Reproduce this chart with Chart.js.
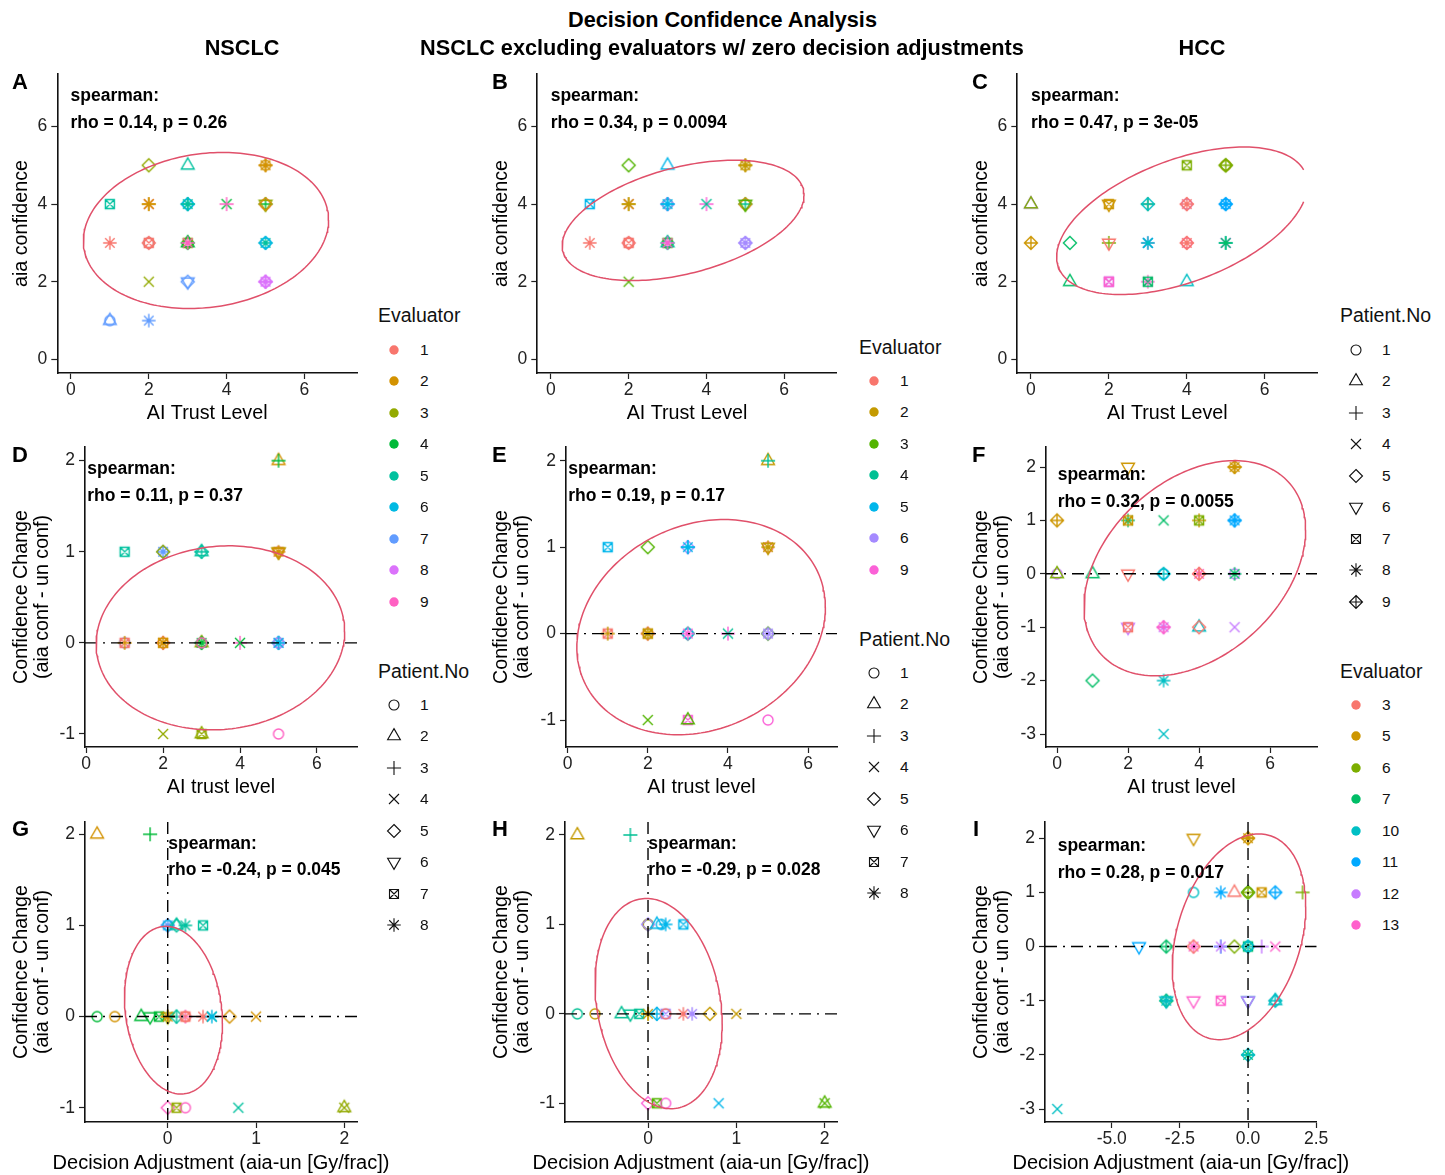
<!DOCTYPE html>
<html>
<head>
<meta charset="utf-8">
<title>Decision Confidence Analysis</title>
<script src="https://cdn.jsdelivr.net/npm/chart.js@4.4.1/dist/chart.umd.min.js"></script>
<style>
  html, body { margin:0; padding:0; background:#ffffff; }
  body { position:relative; width:1445px; height:1175px; overflow:hidden; font-family:'Liberation Sans', Arial, Helvetica, sans-serif; }
  canvas.pn, canvas.sym { position:absolute; }
  .tx { position:absolute; white-space:nowrap; color:#000; }
  .ttl { font-weight:bold; font-size:21.7px; line-height:26px; height:26px; text-align:center; }
  .lett { font-weight:bold; font-size:22px; line-height:26px; height:26px; }
  .sp { font-weight:bold; font-size:17.5px; line-height:20px; height:20px; }
  .axt { font-size:20px; line-height:24px; height:24px; text-align:center; }
  .lgt { font-size:19.5px; line-height:24px; height:24px; color:#111; }
  .lgl { font-size:15.5px; line-height:20px; height:20px; color:#111; }
</style>
</head>
<body>
<script>
// ================= DATA =================
// Panel A : NSCLC, AI trust level vs aia confidence
const A_trust     = [2,3,5,5,5,1,2,2,2,3,3,3,3,4,4,5,5,5,5,1,2,2,2,2,3,3,3,3,5,5,5,2,3,3,5,5,5,5,1,1,2];
const A_conf      = [5,5,5,5,5,4,4,4,4,4,4,4,4,4,4,4,4,4,4,3,3,3,3,3,3,3,3,3,3,3,3,2,2,2,2,2,2,2,1,1,1];
const A_evaluator = [3,5,2,2,2,5,1,2,2,6,5,6,5,4,9,1,4,3,2,1,6,1,1,1,4,3,4,9,5,6,6,3,7,7,8,8,8,8,7,7,7];
const A_patient   = [5,2,1,3,8,7,4,3,8,1,3,5,8,4,3,1,3,6,5,8,1,5,7,1,5,7,2,8,8,5,1,4,5,6,1,3,5,8,1,2,8];

// Panel B : NSCLC excluding evaluators w/ zero decision adjustments
const B_trust     = [2,3,5,5,5,1,2,2,2,3,3,3,3,4,4,5,5,5,5,1,2,2,2,2,3,3,3,3,5,5,5,2];
const B_conf      = [5,5,5,5,5,4,4,4,4,4,4,4,4,4,4,4,4,4,4,3,3,3,3,3,3,3,3,3,3,3,3,2];
const B_evaluator = [3,5,2,2,2,5,1,2,2,4,6,5,5,9,4,1,4,2,3,1,6,1,1,1,4,3,4,9,6,6,6,3];
const B_patient   = [5,2,1,3,8,7,4,3,8,1,5,3,8,3,4,1,3,5,6,8,1,5,7,1,5,7,2,8,5,8,1,4];

// Panel C : HCC
const C_trust     = [0,0,0,1,1,2,2,2,2,2,2,3,3,3,3,3,3,3,4,4,4,4,4,4,4,4,5,5,5,5,5,5,5,5,5];
const C_conf      = [4,4,3,3,2,4,4,3,3,2,2,4,4,3,3,3,2,2,5,4,4,4,3,3,3,2,5,5,5,4,4,4,3,3,3];
const C_evaluator = [12,6,5,7,7,5,5,6,3,12,13,6,10,12,11,10,13,7,6,12,3,3,13,3,3,10,5,6,6,11,11,11,12,10,7];
const C_patient   = [2,2,9,5,2,7,6,3,6,7,7,3,9,8,4,8,8,7,7,1,8,5,1,8,5,2,1,9,5,1,8,9,4,3,8];

// Panel D : NSCLC, AI trust level vs confidence change
const D_trust     = [5,5,1,2,2,2,3,3,3,5,5,5,5,1,1,1,2,2,2,3,3,3,3,4,4,5,5,5,5,2,3,3,5];
const D_change    = [2,2,1,1,1,1,1,1,1,1,1,1,1,0,0,0,0,0,0,0,0,0,0,0,0,0,0,0,0,-1,-1,-1,-1];
const D_evaluator = [2,4,5,7,7,3,5,5,5,1,3,2,2,7,1,2,1,2,2,4,3,4,9,9,4,6,7,8,6,3,3,3,9];
const D_patient   = [2,3,7,8,1,5,2,3,5,1,6,8,6,1,7,3,5,7,8,5,2,8,1,3,4,5,8,1,8,4,2,7,1];

// Panel E
const E_trust     = [5,5,1,2,3,3,3,5,5,5,1,1,2,2,2,3,3,3,4,4,5,5,5,2,3,3,5];
const E_change    = [2,2,1,1,1,1,1,1,1,1,0,0,0,0,0,0,0,0,0,0,0,0,0,-1,-1,-1,-1];
const E_evaluator = [2,4,5,3,6,5,5,1,2,2,1,2,1,2,2,4,5,9,9,4,3,6,6,3,9,3,9];
const E_patient   = [2,3,7,5,5,3,8,1,8,6,7,3,5,7,8,5,1,8,3,4,5,8,1,4,7,2,1];

// Panel F
const F_trust     = [2,5,5,0,2,2,3,4,4,5,5,0,0,1,2,3,3,4,4,5,5,2,2,3,3,4,4,5,1,3,3];
const F_change    = [2,2,2,1,1,1,1,1,1,1,1,0,0,0,0,0,0,0,0,0,0,-1,-1,-1,-1,-1,-1,-1,-2,-2,-3];
const F_evaluator = [5,5,5,5,7,5,7,5,6,11,11,12,6,7,3,11,10,13,3,12,7,12,3,12,13,10,3,12,7,10,10];
const F_patient   = [6,8,9,9,8,7,4,3,7,8,9,1,2,2,6,1,9,8,9,1,8,6,7,8,9,2,5,4,5,8,4];

// Panel G : NSCLC, decision adjustment vs confidence change
const G_adjust    = [-0.8,-0.2,0,0,0,0.1,0.1,0.2,0.4,-0.8,-0.6,-0.3,-0.2,-0.1,0,0,0,0.1,0.1,0.2,0.2,0.2,0.4,0.5,0.5,0.7,1.0,0,0.1,0.2,0.8,2,2];
const G_change    = [2,2,1,1,1,1,1,1,1,0,0,0,0,0,0,0,0,0,0,0,0,0,0,0,0,0,0,-1,-1,-1,-1,-1,-1];
const G_evaluator = [2,4,7,7,6,5,5,5,5,4,2,4,4,4,3,2,2,5,5,9,1,1,1,5,6,2,2,9,3,9,5,3,3];
const G_patient   = [2,3,5,8,1,5,2,8,7,1,1,2,6,7,6,3,8,3,5,3,7,1,8,4,8,5,4,5,7,1,4,4,2];

// Panel H
const H_adjust    = [-0.8,-0.2,0,0,0,0.1,0.15,0.2,0.4,-0.8,-0.6,-0.3,-0.2,-0.1,0,0,0.1,0.1,0.2,0.2,0.4,0.5,0.7,1.0,0,0.1,0.2,0.8,2,2];
const H_change    = [2,2,1,1,1,1,1,1,1,0,0,0,0,0,0,0,0,0,0,0,0,0,0,0,-1,-1,-1,-1,-1,-1];
const H_evaluator = [2,4,3,2,6,5,5,5,5,4,2,4,4,4,2,2,5,5,6,1,1,6,2,2,9,3,9,5,3,3];
const H_patient   = [2,3,1,1,5,2,1,8,7,1,1,2,6,7,3,8,3,5,7,1,8,8,5,4,5,7,1,4,4,2];

// Panel I
const I_adjust    = [-2,0,0,-2,-1,-0.5,0,0,0,0.5,1,2,-4,-3,-2,-2,-1,-1,-0.5,0,0,0,0.5,1,-3,-3,-3,-2,-1,0,0,1,1,0,0,-7];
const I_change    = [2,2,2,1,1,1,1,1,1,1,1,1,0,0,0,0,0,0,0,0,0,0,0,0,-1,-1,-1,-1,-1,-1,-1,-1,-1,-2,-2,-3];
const I_evaluator = [5,5,5,10,11,3,7,6,6,5,11,6,11,7,13,3,11,12,6,7,10,10,12,13,7,10,10,13,13,10,12,10,10,7,10,10];
const I_patient   = [6,8,9,1,8,2,5,1,9,7,9,3,6,9,8,5,3,8,5,7,1,9,3,4,9,8,6,6,7,6,6,9,2,8,9,4];

// Evaluator groups and colours (ggplot hue palette)
const NSCLC_evaluators = [1,2,3,4,5,6,7,8,9];
const NSCLC_colors = ['#F8766D','#D39200','#93AA00','#00BA38','#00C19F','#00B9E3','#619CFF','#DB72FB','#FF61C3'];
const EXCL_evaluators = [1,2,3,4,5,6,9];
const EXCL_colors = ['#F8766D','#C49A00','#53B400','#00C094','#00B6EB','#A58AFF','#FB61D7'];
const HCC_evaluators = [3,5,6,7,10,11,12,13];
const HCC_colors = ['#F8766D','#CD9600','#7CAE00','#00BE67','#00BFC4','#00A9FF','#C77CFF','#FF61CC'];
const NSCLC_patients = [1,2,3,4,5,6,7,8];
const HCC_patients = [1,2,3,4,5,6,7,8,9];

// Tick values / labels
const trustTicks = [0,2,4,6];
const confTicks = [0,2,4,6];
const changeTicksNSCLC = [-1,0,1,2];
const changeTicksHCC = [-3,-2,-1,0,1,2];
const adjustTicksNSCLC = [0,1,2];
const adjustTicksHCC = [-5,-2.5,0,2.5];
const adjustTickLabelsHCC = ['-5.0','-2.5','0.0','2.5'];

// Confidence ellipses: [centre x, centre y, half-width x, y offset of rightmost point, half-height y]
const A_ellipse = [3.47, 3.32, 3.15, 0.27, 2.01];
const B_ellipse = [3.40, 3.58, 3.11, 0.65, 1.55];
const C_ellipse = [3.88, 3.57, 3.22, 0.93, 1.90];
const D_ellipse = [3.49, 0.055, 3.23, 0.07, 1.01];
const E_ellipse = [3.33, 0.075, 3.10, 0.23, 1.245];
const F_ellipse = [3.88, 0.105, 3.12, 0.72, 2.015];
const G_ellipse = [0.065, 0.07, 0.555, -0.14, 0.92];
const H_ellipse = [0.12, 0.115, 0.72, -0.225, 1.175];
const I_ellipse = [-0.33, 0.18, 2.45, 0.56, 1.90];

// Spearman annotations
const A_stat = 'rho = 0.14, p = 0.26';
const B_stat = 'rho = 0.34, p = 0.0094';
const C_stat = 'rho = 0.47, p = 3e-05';
const D_stat = 'rho = 0.11, p = 0.37';
const E_stat = 'rho = 0.19, p = 0.17';
const F_stat = 'rho = 0.32, p = 0.0055';
const G_stat = 'rho = -0.24, p = 0.045';
const H_stat = 'rho = -0.29, p = 0.028';
const I_stat = 'rho = 0.28, p = 0.017';

// ================= PANEL DEFINITIONS =================
const yTitleChange = ['Confidence Change', '(aia conf - un conf)'];
const xTitleAdj = 'Decision Adjustment (aia-un [Gy/frac])';
const panels = [
  {k:'A', x:A_trust, y:A_conf, ev:A_evaluator, pt:A_patient, evals:NSCLC_evaluators, cols:NSCLC_colors, xt:trustTicks, yt:confTicks, ell:A_ellipse, lim:[0,7,0,7], hline:false, vline:false, xTitle:'AI Trust Level', yTitle:'aia confidence', stat:A_stat},
  {k:'B', x:B_trust, y:B_conf, ev:B_evaluator, pt:B_patient, evals:EXCL_evaluators, cols:EXCL_colors, xt:trustTicks, yt:confTicks, ell:B_ellipse, lim:[0,7,0,7], hline:false, vline:false, xTitle:'AI Trust Level', yTitle:'aia confidence', stat:B_stat},
  {k:'C', x:C_trust, y:C_conf, ev:C_evaluator, pt:C_patient, evals:HCC_evaluators, cols:HCC_colors, xt:trustTicks, yt:confTicks, ell:C_ellipse, lim:[0,7,0,7], hline:false, vline:false, xTitle:'AI Trust Level', yTitle:'aia confidence', stat:C_stat},
  {k:'D', x:D_trust, y:D_change, ev:D_evaluator, pt:D_patient, evals:NSCLC_evaluators, cols:NSCLC_colors, xt:trustTicks, yt:changeTicksNSCLC, ell:D_ellipse, lim:null, hline:true, vline:false, xTitle:'AI trust level', yTitle:yTitleChange, stat:D_stat},
  {k:'E', x:E_trust, y:E_change, ev:E_evaluator, pt:E_patient, evals:EXCL_evaluators, cols:EXCL_colors, xt:trustTicks, yt:changeTicksNSCLC, ell:E_ellipse, lim:null, hline:true, vline:false, xTitle:'AI trust level', yTitle:yTitleChange, stat:E_stat},
  {k:'F', x:F_trust, y:F_change, ev:F_evaluator, pt:F_patient, evals:HCC_evaluators, cols:HCC_colors, xt:trustTicks, yt:changeTicksHCC, ell:F_ellipse, lim:null, hline:true, vline:false, xTitle:'AI trust level', yTitle:yTitleChange, stat:F_stat},
  {k:'G', x:G_adjust, y:G_change, ev:G_evaluator, pt:G_patient, evals:NSCLC_evaluators, cols:NSCLC_colors, xt:adjustTicksNSCLC, yt:changeTicksNSCLC, ell:G_ellipse, lim:null, hline:true, vline:true, xTitle:xTitleAdj, htmlXTitle:true, yTitle:yTitleChange, stat:G_stat},
  {k:'H', x:H_adjust, y:H_change, ev:H_evaluator, pt:H_patient, evals:EXCL_evaluators, cols:EXCL_colors, xt:adjustTicksNSCLC, yt:changeTicksNSCLC, ell:H_ellipse, lim:null, hline:true, vline:true, xTitle:xTitleAdj, htmlXTitle:true, yTitle:yTitleChange, stat:H_stat},
  {k:'I', x:I_adjust, y:I_change, ev:I_evaluator, pt:I_patient, evals:HCC_evaluators, cols:HCC_colors, xt:adjustTicksHCC, xl:adjustTickLabelsHCC, yt:changeTicksHCC, ell:I_ellipse, lim:null, hline:true, vline:true, xTitle:xTitleAdj, htmlXTitle:true, yTitle:yTitleChange, stat:I_stat},
];

// ================= LAYOUT (page pixels) =================
const LAY = {
  A:{cv:[0,54,372,376],   area:[57.3,74,357,373],     xr:[-0.35,7.35], yr:[-0.35,7.35], tpad:5.5, sp:[70.5,101,128], let:[12,82]},
  B:{cv:[480,54,372,376], area:[537.3,74,836.7,373],  xr:[-0.35,7.35], yr:[-0.35,7.35], tpad:5.5, sp:[550.7,101,128], let:[492,82]},
  C:{cv:[960,54,372,376], area:[1017.3,74,1317.3,373],xr:[-0.35,7.35], yr:[-0.35,7.35], tpad:5.5, sp:[1031,101,128], let:[972,82]},
  D:{cv:[0,427,372,378],  area:[85,447,357,747],      xr:[-0.03,7.04], yr:[-1.143,2.15], tpad:7, sp:[87.3,474.5,501], let:[12,455]},
  E:{cv:[480,427,372,378],area:[566,447,837,747],     xr:[-0.04,6.72], yr:[-1.312,2.159], tpad:7, sp:[568.3,474.5,501], let:[492,455]},
  F:{cv:[960,427,372,378],area:[1046,447,1317,747],   xr:[-0.31,7.32], yr:[-3.243,2.375], tpad:7, sp:[1057.7,480.5,507], let:[972,455]},
  G:{cv:[0,802,372,373],  area:[85,822,357,1122],     xr:[-0.937,2.144], yr:[-1.157,2.135], tpad:2.9, sp:[168.3,849.5,874.7], let:[12,829]},
  H:{cv:[480,802,372,373],area:[565,822,837,1122],    xr:[-0.94,2.14], yr:[-1.209,2.145], tpad:2.9, sp:[648.3,849.5,874.7], let:[492,829]},
  I:{cv:[960,802,372,373],area:[1045,822,1316.7,1122],xr:[-7.45,2.52], yr:[-3.24,2.30], tpad:2.9, sp:[1057.7,851.5,877.7], let:[973,829]},
};
const ROW3_XTITLE_MID = 1161.6;

const FONT = "'Liberation Sans', Arial, Helvetica, sans-serif";
Chart.defaults.font.family = FONT;
const DASH = [12, 6, 2, 6];
const ELLIPSE_COLOR = '#E0506A';

// ================= SHAPES =================
const RAD = 5.0;
function pathShape(g, s, cx, cy) {
  g.beginPath();
  if (s === 1) {
    g.arc(cx, cy, RAD, 0, Math.PI * 2);
  } else if (s === 2 || s === 6) {
    const r = 1.5551 * RAD * 0.95, xc = 1.3468 * RAD * 0.95, yc = 0.7776 * RAD * 0.95, d = (s === 2) ? 1 : -1;
    g.moveTo(cx, cy - d * r); g.lineTo(cx + xc, cy + d * yc); g.lineTo(cx - xc, cy + d * yc); g.closePath();
  } else if (s === 3) {
    const a = 1.4142 * RAD;
    g.moveTo(cx - a, cy); g.lineTo(cx + a, cy); g.moveTo(cx, cy - a); g.lineTo(cx, cy + a);
  } else if (s === 4) {
    const a = RAD;
    g.moveTo(cx - a, cy - a); g.lineTo(cx + a, cy + a); g.moveTo(cx + a, cy - a); g.lineTo(cx - a, cy + a);
  } else if (s === 5) {
    const a = 1.3 * RAD;
    g.moveTo(cx, cy - a); g.lineTo(cx + a, cy); g.lineTo(cx, cy + a); g.lineTo(cx - a, cy); g.closePath();
  } else if (s === 7) {
    const a = 0.9 * RAD;
    g.rect(cx - a, cy - a, 2 * a, 2 * a);
    g.moveTo(cx - a, cy - a); g.lineTo(cx + a, cy + a); g.moveTo(cx + a, cy - a); g.lineTo(cx - a, cy + a);
  } else if (s === 8) {
    const a = 1.35 * RAD, b = 0.95 * RAD;
    g.moveTo(cx - a, cy); g.lineTo(cx + a, cy); g.moveTo(cx, cy - a); g.lineTo(cx, cy + a);
    g.moveTo(cx - b, cy - b); g.lineTo(cx + b, cy + b); g.moveTo(cx + b, cy - b); g.lineTo(cx - b, cy + b);
  } else if (s === 9) {
    const a = 1.3 * RAD;
    g.moveTo(cx, cy - a); g.lineTo(cx + a, cy); g.lineTo(cx, cy + a); g.lineTo(cx - a, cy); g.closePath();
    g.moveTo(cx - a, cy); g.lineTo(cx + a, cy); g.moveTo(cx, cy - a); g.lineTo(cx, cy + a);
  }
  g.stroke();
}
const cache = {};
function shapeCanvas(s, color) {
  const key = s + color;
  if (cache[key]) return cache[key];
  const c = document.createElement('canvas');
  c.width = 22; c.height = 22;
  const g = c.getContext('2d');
  g.strokeStyle = color; g.lineWidth = 1.4; g.lineJoin = 'miter';
  pathShape(g, s, 11, 11);
  cache[key] = c;
  return c;
}

function ellipseData(par, lim) {
  const [cx, cy, ax, ay, hy] = par;
  const by = Math.sqrt(Math.max(hy * hy - ay * ay, 0));
  const out = [];
  const N = 200;
  for (let i = 0; i <= N; i++) {
    const t = i / N * 2 * Math.PI;
    const x = cx + ax * Math.cos(t);
    const y = cy + ay * Math.cos(t) + by * Math.sin(t);
    if (lim && (x < lim[0] || x > lim[1] || y < lim[2] || y > lim[3])) out.push({x: x, y: null});
    else out.push({x: x, y: y});
  }
  return out;
}

// ================= CHARTS =================
function makeChart(P) {
  const Lo = LAY[P.k];
  const [cl, ct, cw, ch] = Lo.cv;
  const [al, at, ar, ab] = Lo.area;
  const cv = document.createElement('canvas');
  cv.className = 'pn';
  cv.width = cw; cv.height = ch;
  cv.style.left = cl + 'px'; cv.style.top = ct + 'px';
  cv.style.width = cw + 'px'; cv.style.height = ch + 'px';
  document.body.appendChild(cv);

  const pts = P.x.map((v, i) => ({x: v, y: P.y[i]}));
  const styles = P.x.map((v, i) => shapeCanvas(P.pt[i], P.cols[P.evals.indexOf(P.ev[i])]));
  const ds = [];
  ds.push({label: 'ellipse', data: ellipseData(P.ell, P.lim), showLine: true, borderColor: ELLIPSE_COLOR,
           borderWidth: 1.5, pointRadius: 0, pointHoverRadius: 0, fill: false, order: 1, spanGaps: false});
  if (P.hline) ds.push({label: 'zero-h', data: [{x: Lo.xr[0], y: 0}, {x: Lo.xr[1], y: 0}], showLine: true,
           borderColor: '#000', borderWidth: 1.4, borderDash: DASH, pointRadius: 0, pointHoverRadius: 0, order: 2});
  if (P.vline) ds.push({label: 'zero-v', data: [{x: 0, y: Lo.yr[1]}, {x: 0, y: Lo.yr[0]}], showLine: true,
           borderColor: '#000', borderWidth: 1.4, borderDash: DASH, pointRadius: 0, pointHoverRadius: 0, order: 2});
  ds.push({label: 'points', data: pts, pointStyle: styles, pointRadius: 6, pointHoverRadius: 6, showLine: false, order: 3});

  const xLabels = P.xl || P.xt.map(String);
  const yLabels = P.yt.map(String);
  const tickFont = {family: FONT, size: 17.5};
  const titleFont = {family: FONT, size: 19.7, lineHeight: 1.07};
  const gridOpt = {display: true, drawOnChartArea: false, drawTicks: true, tickLength: 6, tickWidth: 1.2, tickColor: '#222', color: '#222'};
  const borderOpt = {display: true, color: '#111', width: 1.6};

  new Chart(cv, {
    type: 'scatter',
    data: {datasets: ds},
    options: {
      responsive: false, animation: false, devicePixelRatio: 1, events: [],
      layout: {padding: {left: 0, top: at - ct, right: cl + cw - ar, bottom: 0}},
      plugins: {legend: {display: false}, tooltip: {enabled: false}},
      scales: {
        x: {
          type: 'linear', min: Lo.xr[0], max: Lo.xr[1],
          afterBuildTicks: s => { s.ticks = P.xt.map(v => ({value: v})); },
          afterFit: s => { s.height = (ct + ch) - ab; },
          ticks: {callback: (v, i) => xLabels[i], font: tickFont, color: '#222', padding: 1, maxRotation: 0, autoSkip: false},
          grid: gridOpt, border: borderOpt,
          title: {display: !P.htmlXTitle, text: P.xTitle, font: titleFont, color: '#000', padding: {top: 0, bottom: Lo.tpad}}
        },
        y: {
          type: 'linear', min: Lo.yr[0], max: Lo.yr[1],
          afterBuildTicks: s => { s.ticks = P.yt.map(v => ({value: v})); },
          afterFit: s => { s.width = al - cl; },
          ticks: {callback: (v, i) => yLabels[i], font: tickFont, color: '#222', padding: 4, autoSkip: false},
          grid: gridOpt, border: borderOpt,
          title: {display: true, text: P.yTitle, font: titleFont, color: '#000', padding: {top: 11, bottom: 0}}
        }
      }
    }
  });
}
panels.forEach(makeChart);

// ================= TEXT =================
function addDiv(txt, cls, left, top, extra) {
  const d = document.createElement('div');
  d.className = 'tx ' + cls;
  d.textContent = txt;
  d.style.left = left + 'px';
  d.style.top = top + 'px';
  if (extra) Object.assign(d.style, extra);
  document.body.appendChild(d);
  return d;
}
// titles
addDiv('Decision Confidence Analysis', 'ttl', 0, 20 - 13, {width: '1445px'});
addDiv('NSCLC', 'ttl', 242 - 150, 48 - 13, {width: '300px'});
addDiv('NSCLC excluding evaluators w/ zero decision adjustments', 'ttl', 722 - 400, 48 - 13, {width: '800px'});
addDiv('HCC', 'ttl', 1202 - 150, 48 - 13, {width: '300px'});

panels.forEach(P => {
  const Lo = LAY[P.k];
  addDiv(P.k, 'lett', Lo.let[0], Lo.let[1] - 13);
  addDiv('spearman:', 'sp', Lo.sp[0], Lo.sp[1] - 16.06);
  addDiv(P.stat, 'sp', Lo.sp[0], Lo.sp[2] - 16.06);
  if (P.htmlXTitle) {
    const mid = (Lo.area[0] + Lo.area[2]) / 2;
    addDiv(P.xTitle, 'axt', mid - 250, ROW3_XTITLE_MID - 12, {width: '500px'});
  }
});

// ================= LEGENDS =================
function symCanvas(cx, cy, draw) {
  const c = document.createElement('canvas');
  c.className = 'sym';
  c.width = 22; c.height = 22;
  c.style.left = (cx - 11) + 'px'; c.style.top = (cy - 11) + 'px';
  const g = c.getContext('2d');
  draw(g);
  document.body.appendChild(c);
}
function colorLegend(left, titleY, y0, step, symX, labX, evals, cols) {
  addDiv('Evaluator', 'lgt', left, titleY - 12);
  evals.forEach((e, i) => {
    const y = y0 + step * i;
    symCanvas(symX, y, g => { g.fillStyle = cols[i]; g.beginPath(); g.arc(11, 11, 4.7, 0, Math.PI * 2); g.fill(); });
    addDiv(String(e), 'lgl', labX, y - 10);
  });
}
function shapeLegend(left, titleY, y0, step, symX, labX, pats) {
  addDiv('Patient.No', 'lgt', left, titleY - 12);
  pats.forEach((p, i) => {
    const y = y0 + step * i;
    symCanvas(symX, y, g => { g.strokeStyle = '#111'; g.lineWidth = 1.1; pathShape(g, p, 11, 11); });
    addDiv(String(p), 'lgl', labX, y - 10);
  });
}
const STEP = 31.45;
colorLegend(378, 315, 350, STEP, 394, 420, NSCLC_evaluators, NSCLC_colors);
shapeLegend(378, 671, 705, STEP, 394, 420, NSCLC_patients);
colorLegend(859, 347, 381, STEP, 874, 900, EXCL_evaluators, EXCL_colors);
shapeLegend(859, 639, 673, STEP, 874, 900, NSCLC_patients);
shapeLegend(1340, 315, 350, STEP, 1356, 1382, HCC_patients);
colorLegend(1340, 671, 705, STEP, 1356, 1382, HCC_evaluators, HCC_colors);
</script>
</body>
</html>
